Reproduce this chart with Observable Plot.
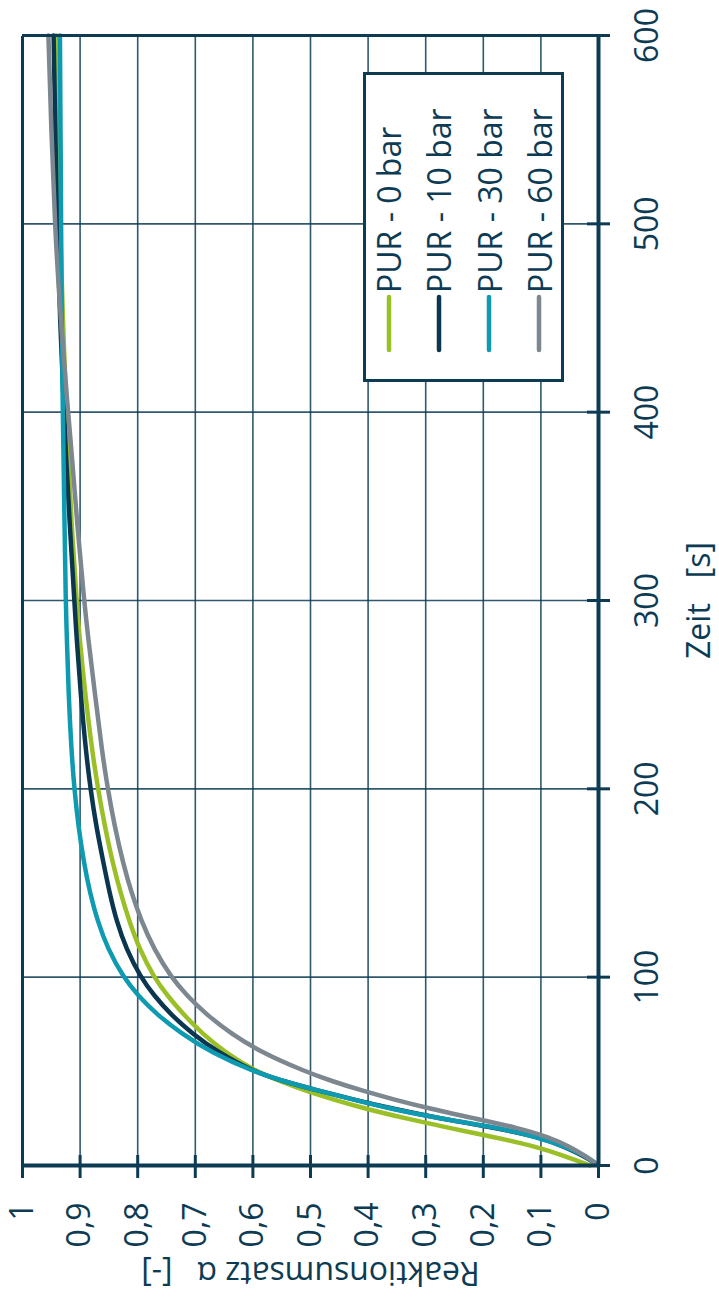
<!DOCTYPE html>
<html>
<head>
<meta charset="utf-8">
<script src="https://cdn.jsdelivr.net/npm/d3@7"></script>
<script src="https://cdn.jsdelivr.net/npm/@observablehq/plot@0.6"></script>
<style>
  html, body { margin: 0; padding: 0; overflow: hidden; background: #fff; width: 719px; height: 1305px; }
  #wrap { position: absolute; left: 0; top: 0; width: 1305px; height: 719px;
          transform-origin: 0 0; transform: translate(0px, 1305px) rotate(-90deg); background: #fff; }
  #legend { position: absolute; left: 923px; top: 363px; width: 310px; height: 201px; box-sizing: border-box;
            border: 3px solid #0d3b54; background: #fff; font-family: 'Open Sans', sans-serif; font-size: 32px; color: #0d3b54; }
  .row { position: absolute; left: 0; height: 50px; display: flex; align-items: center; white-space: nowrap; }
</style>
</head>
<body>
<div id="wrap"><div id="chart"></div><div id="legend"></div></div>
<script>
// ---- data ----
const times = [0, 5, 10, 15, 20, 25, 30, 35, 40, 45, 50, 60, 70, 80, 90, 100, 115, 130, 145, 160, 180, 200, 220, 250, 280, 300, 340, 380, 400, 450, 500, 550, 600];
const pur0  = [0.015, 0.058, 0.108, 0.18, 0.26, 0.335, 0.403, 0.46, 0.512, 0.555, 0.595, 0.648, 0.688, 0.72, 0.748, 0.772, 0.797, 0.815, 0.83, 0.843, 0.857, 0.869, 0.879, 0.891, 0.901, 0.906, 0.915, 0.921, 0.924, 0.93, 0.935, 0.938, 0.941];
const pur10 = [0, 0.025, 0.06, 0.1, 0.18, 0.275, 0.355, 0.425, 0.49, 0.55, 0.6, 0.66, 0.705, 0.742, 0.771, 0.795, 0.82, 0.837, 0.849, 0.859, 0.872, 0.882, 0.89, 0.899, 0.906, 0.91, 0.918, 0.925, 0.928, 0.935, 0.94, 0.943, 0.946];
const pur30 = [0, 0.022, 0.058, 0.105, 0.175, 0.275, 0.36, 0.425, 0.49, 0.55, 0.6, 0.672, 0.724, 0.766, 0.799, 0.825, 0.852, 0.87, 0.883, 0.893, 0.903, 0.91, 0.915, 0.92, 0.923, 0.925, 0.927, 0.929, 0.93, 0.932, 0.933, 0.934, 0.935];
const pur60 = [0, 0.022, 0.05, 0.085, 0.14, 0.215, 0.29, 0.355, 0.413, 0.465, 0.51, 0.585, 0.638, 0.68, 0.714, 0.742, 0.772, 0.794, 0.811, 0.825, 0.84, 0.852, 0.862, 0.874, 0.886, 0.893, 0.905, 0.915, 0.921, 0.934, 0.944, 0.95, 0.955];
const seriesNames = ["PUR - 0 bar", "PUR - 10 bar", "PUR - 30 bar", "PUR - 60 bar"];
const seriesColors = ["#9bbf26", "#0b3650", "#0e9bb2", "#7c878f"];
const xTicks = [0, 100, 200, 300, 400, 500, 600];
const yTicks = [0, 0.1, 0.2, 0.3, 0.4, 0.5, 0.6, 0.7, 0.8, 0.9, 1];
const yTickLabels = ["0", "0,1", "0,2", "0,3", "0,4", "0,5", "0,6", "0,7", "0,8", "0,9", "1"];
const xTitle = "Zeit\u00a0\u00a0\u00a0[s]";
const yTitle = "Reaktionsumsatz α\u00a0\u00a0\u00a0[-]";

const ink = "#0d3b54";
const allSeries = [pur0, pur10, pur30, pur60];
const rows = [];
allSeries.forEach((vals, s) => vals.forEach((a, i) => rows.push({t: times[i], a, series: seriesNames[s]})));

const chart = Plot.plot({
  width: 1305, height: 719,
  marginLeft: 139, marginRight: 36, marginTop: 22, marginBottom: 121,
  style: {fontFamily: "'Open Sans', sans-serif", fontSize: "32px", color: ink, background: "white", maxWidth: "none", overflow: "visible"},
  x: {domain: [0, 600], label: null},
  y: {domain: [0, 1], label: null},
  color: {domain: seriesNames, range: seriesColors},
  marks: [
    Plot.gridX(xTicks, {stroke: ink, strokeOpacity: 0.85, strokeWidth: 1.6}),
    Plot.gridY(yTicks, {stroke: ink, strokeOpacity: 0.85, strokeWidth: 1.6}),
    Plot.line(rows, {x: "t", y: "a", z: "series", stroke: "series", strokeWidth: 4.5, curve: "basis"}),
    Plot.ruleY([1], {stroke: ink, strokeWidth: 3}),
    Plot.ruleX([600], {stroke: ink, strokeWidth: 3}),
    Plot.ruleY([0], {stroke: ink, strokeWidth: 4}),
    Plot.ruleX([0], {stroke: ink, strokeWidth: 4}),
    Plot.tickX(xTicks, {x: d => d, stroke: ink, strokeWidth: 3, insetTop: 565, insetBottom: -12}),
    Plot.tickY(yTicks, {y: d => d, stroke: ink, strokeWidth: 3, insetLeft: -12, insetRight: 1119}),
    Plot.axisX(xTicks, {tickSize: 0, tickPadding: 37, fontSize: 32}),
    Plot.axisY(yTicks, {tickSize: 0, tickPadding: 37, fontSize: 32, tickFormat: d => yTickLabels[yTicks.indexOf(d)]}),
    Plot.text([xTitle], {frameAnchor: "bottom", dy: 89, lineAnchor: "top", fontSize: 32}),
    Plot.text([yTitle], {frameAnchor: "left", dx: -107, rotate: -90, textAnchor: "middle", lineAnchor: "middle", fontSize: 32})
  ]
});
document.getElementById("chart").appendChild(chart);

// legend
const legend = document.getElementById("legend");
seriesNames.forEach((name, i) => {
  const row = document.createElement("div");
  row.className = "row";
  row.style.top = (-2.3 + i * 50.2) + "px";
  row.innerHTML = `<svg width="86" height="50"><line x1="29" x2="82" y1="25" y2="25" stroke="${seriesColors[i]}" stroke-width="4.5" stroke-linecap="round"/></svg><span>${name}</span>`;
  legend.appendChild(row);
});
</script>
</body>
</html>
